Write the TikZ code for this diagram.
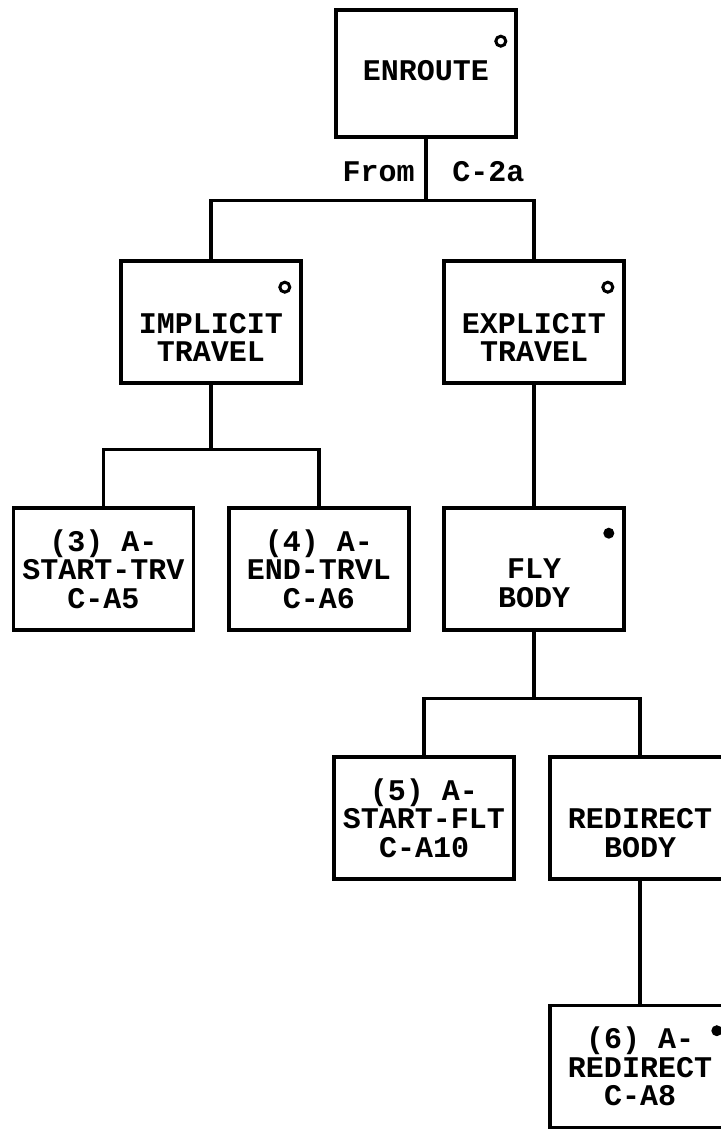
\documentclass[tikz,border=0pt]{standalone}
\usepackage{fontspec}
\setmonofont{Liberation Mono}

\begin{document}
\begin{tikzpicture}[x=0.5pt,y=-0.5pt,line join=miter,
  box/.style={draw,line width=1.8pt,minimum width=90pt,minimum height=61pt,
    inner sep=2pt,align=center,font=\ttfamily\bfseries\fontsize{15}{14.2}\selectfont},
  tag/.style={inner sep=0pt,font=\ttfamily\bfseries\fontsize{15}{14}\selectfont},
  link/.style={line width=1.6pt},
  opendot/.style={circle,draw,line width=1.5pt,inner sep=0pt,minimum size=5pt},
  soliddot/.style={circle,fill,inner sep=0pt,minimum size=5.5pt}]
  \useasboundingbox (0,0) rectangle (721,1133);
  \clip (0,0) rectangle (721,1133);
  % boxes
  \node[box,minimum height=63.5pt] (enroute) at (426,73.5) {\strut\\ENROUTE\\\strut};
  \node[box] (implicit) at (211,322) {\strut\\IMPLICIT\\TRAVEL};
  \node[box] (explicit) at (534,322) {\strut\\EXPLICIT\\TRAVEL};
  \node[box] (starttrv) at (103.5,569) {(3) A-\\START-TRV\\C-A5};
  \node[box] (endtrvl) at (319,569) {(4) A-\\END-TRVL\\C-A6};
  \node[box] (flybody) at (534,569) {\strut\\FLY\\BODY};
  \node[box] (startflt) at (424,818) {(5) A-\\START-FLT\\C-A10};
  \node[box] (redirect) at (640,818) {\strut\\REDIRECT\\BODY};
  \node[box] (redirecta) at (640,1066.5) {(6) A-\\REDIRECT\\C-A8};
  % corner marks
  \node[opendot] (enroutemark) at ([xshift=-8.5pt,yshift=-16.5pt]enroute.north east) {};
  \node[opendot] (implicitmark) at ([xshift=-9pt,yshift=-14pt]implicit.north east) {};
  \node[opendot] (explicitmark) at ([xshift=-9pt,yshift=-14pt]explicit.north east) {};
  \node[soliddot] (flymark) at ([xshift=-8.5pt,yshift=-13.5pt]flybody.north east) {};
  \node[soliddot] (redirectamark) at ([xshift=-7.5pt,yshift=-13.5pt]redirecta.north east) {};
  % tree lines
  \draw[link] (enroute.south) -- ++(0,62) coordinate (fork1) -| (implicit.north);
  \draw[link] (fork1) -| (explicit.north);
  \draw[link] (implicit.south) -- ++(0,65) coordinate (fork2) -| (starttrv.north);
  \draw[link] (fork2) -| (endtrvl.north);
  \draw[link] (explicit.south) -- (flybody.north);
  \draw[link] (flybody.south) -- ++(0,67) coordinate (fork3) -| (startflt.north);
  \draw[link] (fork3) -| (redirect.north);
  \draw[link] (redirect.south) -- (redirecta.north);
  % labels on the top line
  \node[tag,anchor=east] (fromtag) at ([xshift=-5.5pt,yshift=-16.5pt]enroute.south) {From};
  \node[tag,anchor=west] (sourcetag) at ([xshift=13pt,yshift=-16.5pt]enroute.south) {C-2a};
\end{tikzpicture}
\end{document}
